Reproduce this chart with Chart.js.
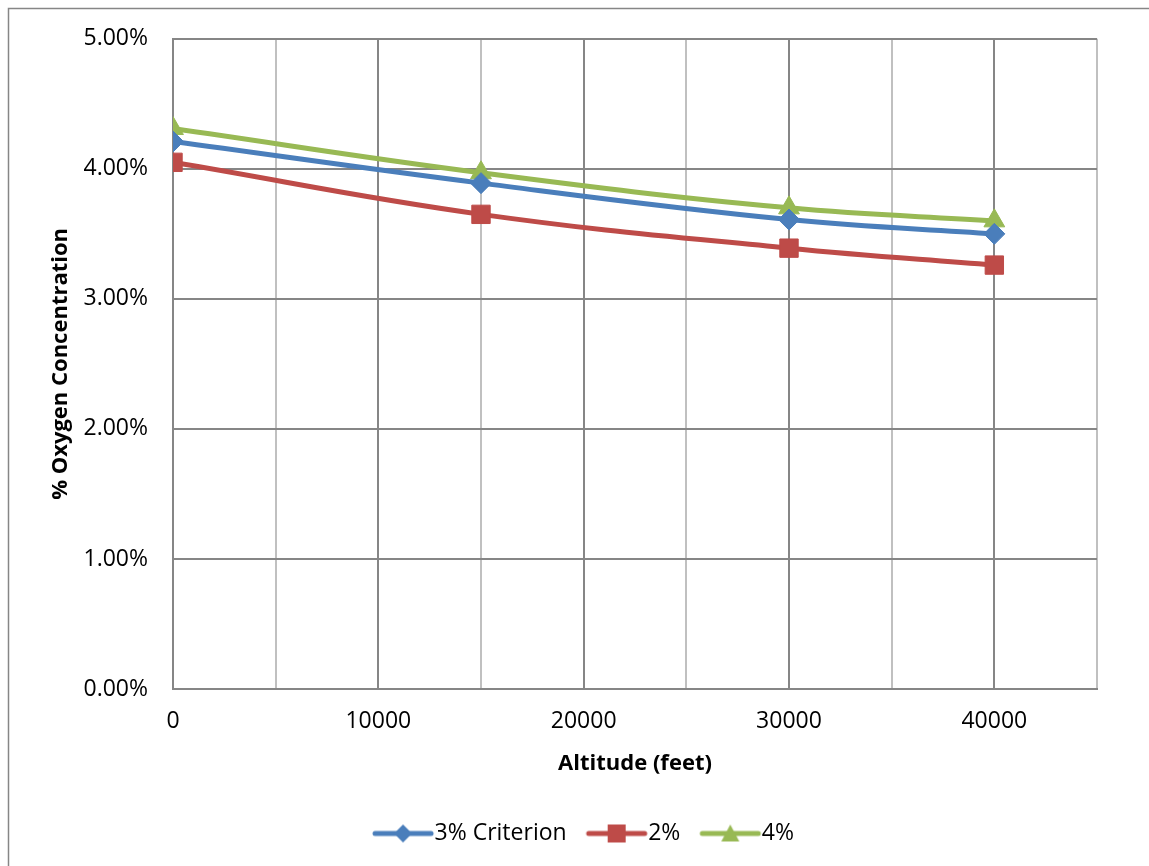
<!DOCTYPE html>
<html>
<head>
<meta charset="utf-8">
<script src="https://cdn.jsdelivr.net/npm/chart.js@4"></script>
<style>
  html, body { margin: 0; padding: 0; background: #fff; }
  #wrap { width: 1149px; height: 866px; }
</style>
</head>
<body>
<div id="wrap"><canvas id="oxygenChart" width="1149" height="866"></canvas></div>
<script>
// altitude in feet, oxygen concentration in %
const altitudes = [0, 15000, 30000, 40000];
const criterion3 = [4.21, 3.89, 3.61, 3.50];
const criterion2 = [4.05, 3.65, 3.39, 3.26];
const criterion4 = [4.31, 3.97, 3.70, 3.60];
const seriesNames = ['3% Criterion', '2%', '4%'];

const blue = '#4a7ebb';
const red = '#be4b48';
const green = '#98b954';
const FONT = '"Open Sans", Lato, sans-serif';

function toPoints(values) {
    return altitudes.map((a, i) => ({ x: a, y: values[i] }));
}

// little line + marker picture for the legend
function legendSample(color, shape) {
    const c = document.createElement('canvas');
    c.width = 76;
    c.height = 26;
    const g = c.getContext('2d');
    g.strokeStyle = color;
    g.fillStyle = color;
    g.lineWidth = 5;
    g.lineCap = 'round';
    g.beginPath();
    g.moveTo(10, 13);
    g.lineTo(66, 13);
    g.stroke();
    g.beginPath();
    if (shape === 'diamond') {
        g.moveTo(38, 4); g.lineTo(47, 13); g.lineTo(38, 22); g.lineTo(29, 13);
    } else if (shape === 'square') {
        g.rect(29, 4, 18, 18);
    } else {
        g.moveTo(38, 4); g.lineTo(47, 21); g.lineTo(29, 21);
    }
    g.closePath();
    g.fill();
    return c;
}

const samples = [legendSample(blue, 'diamond'), legendSample(red, 'square'), legendSample(green, 'triangle')];

const frame = {
    id: 'frame',
    beforeDraw(chart) {
        const ctx = chart.ctx;
        ctx.save();
        ctx.fillStyle = '#fff';
        ctx.fillRect(0, 0, chart.width, chart.height);
        ctx.strokeStyle = '#868686';
        ctx.lineWidth = 1.5;
        ctx.beginPath();
        ctx.moveTo(8.5, chart.height);
        ctx.lineTo(8.5, 8.5);
        ctx.lineTo(chart.width, 8.5);
        ctx.stroke();
        ctx.restore();
    },
    afterLayout(chart) {
        // Excel centres the legend in the whole frame, shift it a bit
        chart.legend.left += 40;
        chart.legend.right += 40;
        chart.legend.top += 3;
        chart.legend.bottom += 3;
    }
};

const ctx = document.getElementById('oxygenChart').getContext('2d');
const myChart = new Chart(ctx, {
    type: 'line',
    data: {
        datasets: [
            {
                label: seriesNames[0],
                data: toPoints(criterion3),
                borderColor: blue,
                backgroundColor: blue,
                pointStyle: 'rectRot',
                pointRadius: 10.5,
                pointBorderWidth: 1
            },
            {
                label: seriesNames[1],
                data: toPoints(criterion2),
                borderColor: red,
                backgroundColor: red,
                pointStyle: 'rect',
                pointRadius: 13,
                pointBorderWidth: 1
            },
            {
                label: seriesNames[2],
                data: toPoints(criterion4),
                borderColor: green,
                backgroundColor: green,
                pointStyle: 'triangle',
                pointRadius: 12,
                pointBorderWidth: 1
            }
        ]
    },
    options: {
        responsive: false,
        animation: false,
        layout: {
            padding: { left: 0, top: 38, right: 52, bottom: 14 }
        },
        elements: {
            line: { borderWidth: 5, tension: 0.4, borderCapStyle: 'round' }
        },
        plugins: {
            tooltip: { enabled: false },
            legend: {
                position: 'bottom',
                labels: {
                    usePointStyle: true,
                    pointStyleWidth: 40,
                    boxHeight: 22,
                    padding: 30,
                    color: '#000',
                    font: { family: FONT, size: 23 },
                    generateLabels(chart) {
                        return chart.data.datasets.map((ds, i) => ({
                            text: ds.label,
                            pointStyle: samples[i],
                            fillStyle: ds.borderColor,
                            strokeStyle: ds.borderColor,
                            lineWidth: 0,
                            fontColor: '#000',
                            hidden: false,
                            datasetIndex: i
                        }));
                    }
                }
            }
        },
        scales: {
            x: {
                type: 'linear',
                min: 0,
                max: 45000,
                afterFit(scale) { scale.height = 100; },
                ticks: {
                    stepSize: 5000,
                    padding: 19,
                    color: '#000',
                    maxRotation: 0,
                    autoSkip: false,
                    font: { family: FONT, size: 23 },
                    callback: v => (v % 10000 === 0 && v < 45000) ? String(v) : ''
                },
                grid: {
                    drawTicks: false,
                    lineWidth: 2,
                    color: c => (c.tick && c.tick.value % 10000 === 0) ? '#868686' : '#c0c0c0'
                },
                border: { color: '#868686', width: 2 },
                title: {
                    display: true,
                    text: 'Altitude (feet)',
                    color: '#000',
                    padding: { top: 0, bottom: 12 },
                    font: { family: FONT, size: 22, weight: 'bold' }
                }
            },
            y: {
                min: 0,
                max: 5,
                afterFit(scale) { scale.width = 173; },
                ticks: {
                    stepSize: 1,
                    padding: 25,
                    color: '#000',
                    font: { family: FONT, size: 23 },
                    callback: v => v.toFixed(2) + '%'
                },
                grid: { drawTicks: false, lineWidth: 2, color: '#868686' },
                border: { color: '#868686', width: 2 },
                title: {
                    display: true,
                    text: '% Oxygen Concentration',
                    color: '#000',
                    padding: { top: 48, bottom: 0 },
                    font: { family: FONT, size: 22, weight: 'bold' }
                }
            }
        }
    },
    plugins: [frame]
});
</script>
</body>
</html>
